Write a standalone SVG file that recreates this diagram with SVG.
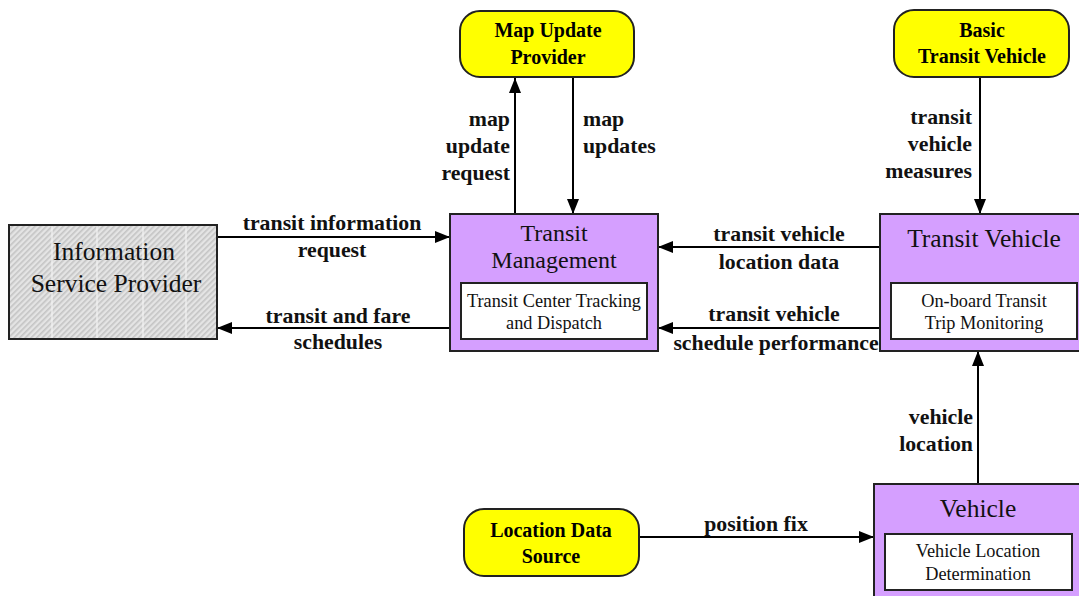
<svg xmlns="http://www.w3.org/2000/svg" width="1079" height="596" viewBox="0 0 1079 596">
<style>
.box{fill:#D59FFF;stroke:#222;stroke-width:2}
.inner{fill:#fff;stroke:#222;stroke-width:2}
.term{fill:#FFFF00;stroke:#222;stroke-width:2}
.title{font-family:"Liberation Serif","Times New Roman",serif;font-size:25.5px;fill:#111;text-anchor:middle}
.sub{font-family:"Liberation Serif","Times New Roman",serif;font-size:18.3px;fill:#111;text-anchor:middle}
.tname{font-family:"Liberation Serif","Times New Roman",serif;font-size:20px;font-weight:bold;fill:#000;text-anchor:middle}
.lbl{font-family:"Liberation Serif","Times New Roman",serif;font-size:21.8px;font-weight:bold;fill:#111}
.c{text-anchor:middle}
.r{text-anchor:end}
.l{text-anchor:start}
.flow{stroke:#000;stroke-width:2;fill:none;marker-end:url(#arr)}
</style>
<defs>
<marker id="arr" viewBox="0 0 15 12" refX="15" refY="6" markerWidth="15" markerHeight="12" markerUnits="userSpaceOnUse" orient="auto">
<path d="M0,0 L15,6 L0,12 z" fill="#000"/>
</marker>
<pattern id="hatch" width="4" height="4" patternUnits="userSpaceOnUse" patternTransform="rotate(45)">
<rect width="4" height="4" fill="#e4e4e4"/>
<rect width="1.6" height="4" fill="#c4c4c4"/>
</pattern>
</defs>
<rect width="1079" height="596" fill="#fff"/>

<g id="connectors">
<line class="flow" x1="515" y1="214" x2="515" y2="78"/>
<line class="flow" x1="573" y1="77" x2="573" y2="214"/>
<line class="flow" x1="980" y1="77" x2="980" y2="214"/>
<line class="flow" x1="217" y1="237" x2="450" y2="237"/>
<line class="flow" x1="450" y1="328" x2="217" y2="328"/>
<line class="flow" x1="880" y1="247" x2="658" y2="247"/>
<line class="flow" x1="880" y1="328" x2="658" y2="328"/>
<line class="flow" x1="978" y1="484" x2="978" y2="351"/>
<line class="flow" x1="639" y1="537" x2="874" y2="537"/>
<text class="lbl r" x="510" y="126">map</text>
<text class="lbl r" x="510" y="153">update</text>
<text class="lbl r" x="510" y="180">request</text>
<text class="lbl l" x="583" y="126">map</text>
<text class="lbl l" x="583" y="153">updates</text>
<text class="lbl r" x="972" y="124">transit</text>
<text class="lbl r" x="972" y="151">vehicle</text>
<text class="lbl r" x="972" y="178">measures</text>
<text class="lbl c" x="332" y="230">transit information</text>
<text class="lbl c" x="332" y="257">request</text>
<text class="lbl c" x="338" y="323">transit and fare</text>
<text class="lbl c" x="338" y="349">schedules</text>
<text class="lbl c" x="779" y="241">transit vehicle</text>
<text class="lbl c" x="779" y="269">location data</text>
<text class="lbl c" x="774" y="321">transit vehicle</text>
<text class="lbl c" x="776" y="350">schedule performance</text>
<text class="lbl r" x="973" y="424">vehicle</text>
<text class="lbl r" x="973" y="451">location</text>
<text class="lbl c" x="756" y="531">position fix</text>
</g>

<g id="isp">
<rect x="9" y="225" width="208" height="114" fill="url(#hatch)" stroke="none"/>
<g stroke="#f4f4f4" stroke-width="1.2">
<line x1="52" y1="226" x2="52" y2="338"/>
<line x1="97" y1="226" x2="97" y2="338"/>
<line x1="143" y1="226" x2="143" y2="338"/>
<line x1="186" y1="226" x2="186" y2="338"/>
</g>
<rect x="9" y="225" width="208" height="114" fill="none" stroke="#222" stroke-width="2"/>
<text class="title" x="114" y="260">Information</text>
<text class="title" x="116" y="292">Service Provider</text>
</g>

<g id="transit-management">
<rect class="box" x="450" y="214" width="208" height="137"/>
<rect class="inner" x="461" y="283" width="186" height="56"/>
<text class="title" x="554" y="241" style="font-size:24px">Transit</text>
<text class="title" x="554" y="268" style="font-size:24px">Management</text>
<text class="sub" x="554" y="307">Transit Center Tracking</text>
<text class="sub" x="554" y="329">and Dispatch</text>
</g>

<g id="transit-vehicle">
<rect class="box" x="880" y="214" width="208" height="137"/>
<rect class="inner" x="891" y="283" width="186" height="56"/>
<text class="title" x="984" y="247">Transit Vehicle</text>
<text class="sub" x="984" y="307">On-board Transit</text>
<text class="sub" x="984" y="329">Trip Monitoring</text>
</g>

<g id="vehicle">
<rect class="box" x="874" y="484" width="209" height="120"/>
<rect class="inner" x="885" y="534" width="187" height="56"/>
<text class="title" x="978" y="517">Vehicle</text>
<text class="sub" x="978" y="557">Vehicle Location</text>
<text class="sub" x="978" y="580">Determination</text>
</g>

<g id="map-update-provider">
<rect class="term" x="460" y="11" width="174" height="66" rx="20" ry="20"/>
<text class="tname" x="548" y="37">Map Update</text>
<text class="tname" x="548" y="64">Provider</text>
</g>

<g id="basic-transit-vehicle">
<rect class="term" x="894" y="10" width="175" height="67" rx="20" ry="20"/>
<text class="tname" x="982" y="37">Basic</text>
<text class="tname" x="982" y="63">Transit Vehicle</text>
</g>

<g id="location-data-source">
<rect class="term" x="464" y="509" width="175" height="67" rx="20" ry="20"/>
<text class="tname" x="551" y="537">Location Data</text>
<text class="tname" x="551" y="563">Source</text>
</g>
</svg>
